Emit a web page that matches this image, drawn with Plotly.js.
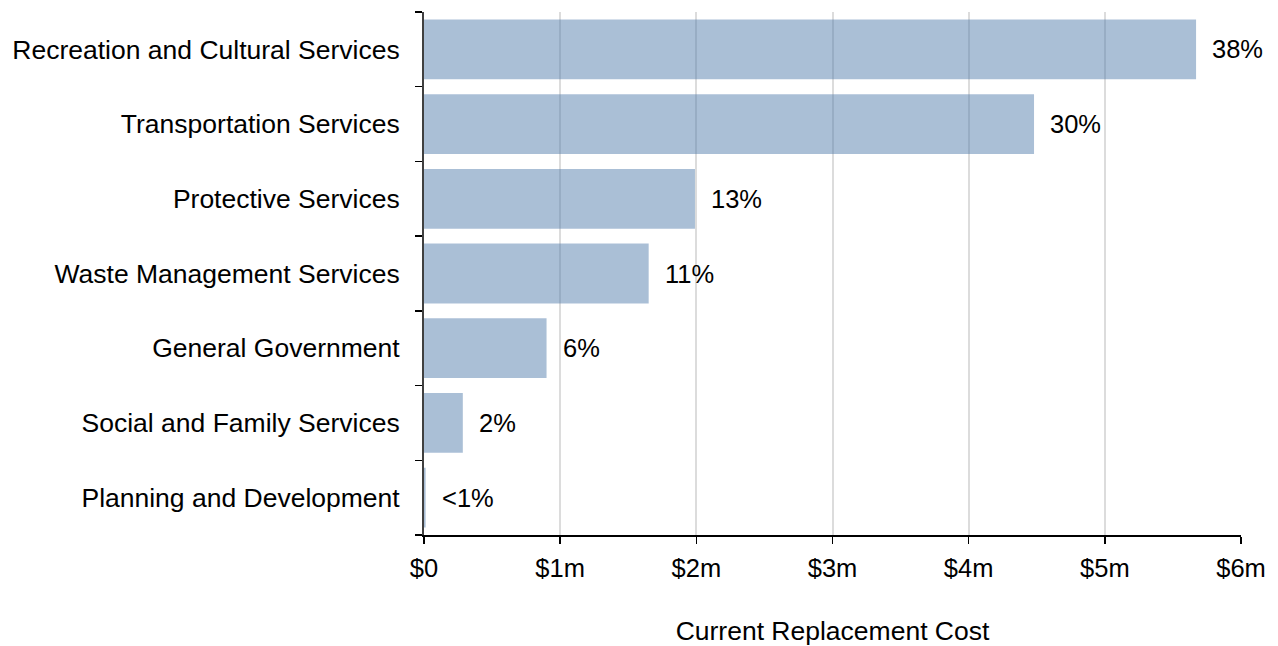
<!DOCTYPE html>
<html>
<head>
<meta charset="utf-8">
<script src="https://cdn.plot.ly/plotly-3.0.1.min.js"></script>
<style>html,body{margin:0;padding:0;background:#fff;}#chart{width:1278px;height:646px;}</style>
</head>
<body>
<div id="chart"></div>
<script>
const categories = [
  "Recreation and Cultural Services",
  "Transportation Services",
  "Protective Services",
  "Waste Management Services",
  "General Government",
  "Social and Family Services",
  "Planning and Development"
];
const values = [5.67, 4.48, 1.99, 1.65, 0.90, 0.285, 0.012]; // $ millions
const pctLabels = ["38%", "30%", "13%", "11%", "6%", "2%", "<1%"];
const tickVals = [0, 1, 2, 3, 4, 5, 6];
const tickText = ["$0", "$1m", "$2m", "$3m", "$4m", "$5m", "$6m"];

const fam = "Liberation Sans, Arial, sans-serif";
const fontBig = {family: fam, size: 26.5, color: "#000"};
const fontMid = {family: fam, size: 25.5, color: "#000"};

const trace = {
  type: "bar",
  orientation: "h",
  y: categories,
  x: values,
  marker: {color: "rgba(82,124,171,0.49)", line: {width: 0}},
  hoverinfo: "skip"
};

const annotations = categories.map((c, i) => ({
  x: values[i], y: c, xref: "x", yref: "y",
  text: pctLabels[i], showarrow: false,
  xanchor: "left", xshift: 14, font: fontMid
}));

const layout = {
  width: 1278, height: 646,
  margin: {l: 424, r: 37, t: 12, b: 111},
  paper_bgcolor: "#fff", plot_bgcolor: "#fff",
  font: fontMid,
  showlegend: false,
  bargap: 0.2,
  xaxis: {
    range: [0, 6],
    tickvals: tickVals, ticktext: tickText,
    showgrid: true, gridcolor: "#dcdcdc", gridwidth: 2,
    zeroline: false,
    showline: true, linecolor: "#000", linewidth: 1.5,
    ticks: "outside", ticklen: 7, tickcolor: "#000", tickwidth: 1.5,
    tickfont: fontMid, ticklabelstandoff: 3,
    title: {text: "Current Replacement Cost", font: fontBig, standoff: 48}
  },
  yaxis: {
    categoryorder: "array", categoryarray: categories.slice().reverse(),
    autorange: true,
    showgrid: false, zeroline: false,
    showline: true, linecolor: "#404040", linewidth: 2,
    ticks: "outside", tickson: "boundaries", ticklen: 7, tickcolor: "#000", tickwidth: 1.5,
    tickfont: fontBig, ticklabelstandoff: 17
  },
  annotations: annotations
};

Plotly.newPlot("chart", [trace], layout, {displayModeBar: false, staticPlot: true});
</script>
</body>
</html>
